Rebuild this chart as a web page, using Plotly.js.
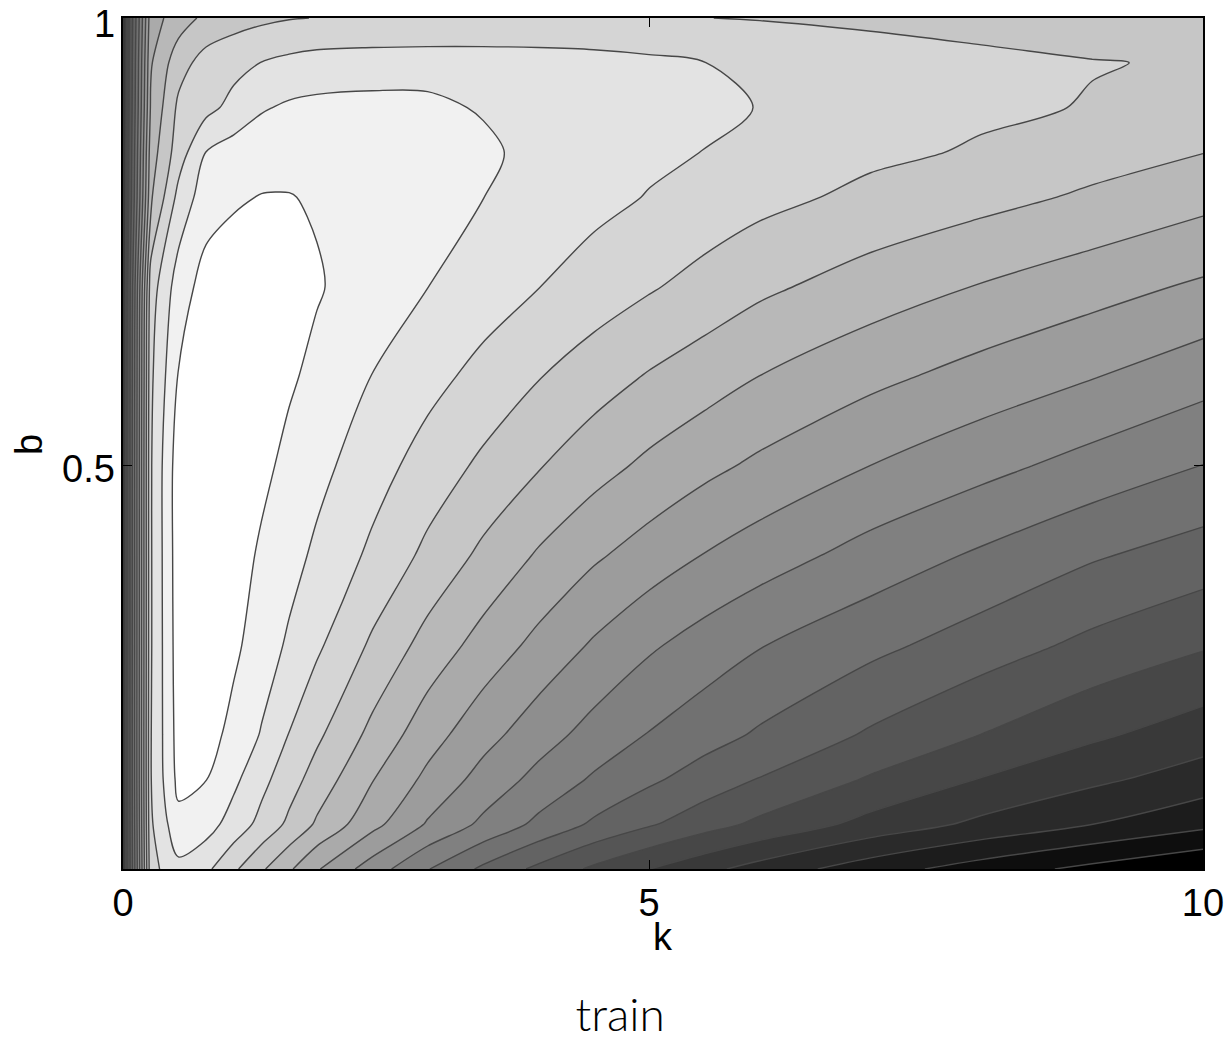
<!DOCTYPE html>
<html>
<head>
<meta charset="utf-8">
<script src="https://cdn.plot.ly/plotly-3.0.1.min.js"></script>
<style>
  html, body { margin: 0; padding: 0; background: #ffffff; }
  #chart { width: 1228px; height: 1040px; }
</style>
</head>
<body>
<div id="chart"></div>
<script>
// k values (grid columns) and b values (grid rows)
const kValues = [0.25, 0.5, 0.75, 1, 1.25, 1.5, 1.75, 2, 2.5, 3, 3.5, 4, 4.5, 5, 5.5, 6, 7, 8, 9, 10];
const bValues = [0.05, 0.1, 0.15, 0.2, 0.3, 0.4, 0.5, 0.6, 0.7, 0.8, 0.85, 0.9, 0.95, 1.0];

// contour level (darkness, 0 = white ... 19 = black), one row per b value
const row005 = [15, 3.35, 2.26, 2.78, 3.82, 4.85, 5.85, 6.9, 8.49, 9.95, 11.19, 12.23, 13.18, 13.99, 14.73, 15.4, 16.55, 17.47, 18.27, 19.0];
const row010 = [15, 3.15, 1.3, 1.58, 2.42, 3.3, 4.21, 5.14, 6.69, 8.1, 9.21, 10.23, 11.16, 11.89, 12.58, 13.22, 14.34, 15.23, 15.99, 16.73];
const row015 = [15, 3.05, 0.72, 0.98, 1.78, 2.71, 3.58, 4.42, 5.95, 7.24, 8.36, 9.3, 10.13, 10.82, 11.46, 12.05, 13.11, 14.05, 14.79, 15.48];
const row020 = [15, 3.05, 0.6, 0.6, 1.3, 2.07, 3.03, 3.81, 5.27, 6.58, 7.64, 8.56, 9.37, 10.05, 10.6, 11.13, 12.13, 13.01, 13.82, 14.52];
const row030 = [15, 3.1, 0.5, 0.3, 0.8, 1.49, 2.15, 2.83, 4.16, 5.37, 6.38, 7.28, 8.12, 8.85, 9.43, 9.95, 10.73, 11.49, 12.25, 12.89];
const row040 = [15, 3.1, 0.45, 0.25, 0.6, 1.13, 1.65, 2.19, 3.2, 4.24, 5.22, 6.11, 6.85, 7.46, 8.04, 8.52, 9.39, 10.15, 10.89, 11.46];
const row050 = [15, 3.1, 0.45, 0.2, 0.5, 0.79, 1.23, 1.7, 2.58, 3.42, 4.2, 4.93, 5.62, 6.22, 6.74, 7.2, 8.01, 8.69, 9.37, 10.02];
const row060 = [15, 3.2, 0.95, 0.5, 0.55, 0.7, 0.88, 1.22, 2.02, 2.67, 3.31, 3.95, 4.53, 5.08, 5.54, 6.01, 6.74, 7.37, 7.95, 8.61];
const row070 = [15, 3.5, 1.5, 0.6, 0.55, 0.55, 0.62, 0.92, 1.46, 1.99, 2.49, 2.98, 3.45, 3.9, 4.35, 4.8, 5.47, 6.06, 6.61, 7.16];
const row080 = [15, 5.2, 2.7, 1.45, 1.1, 0.97, 0.97, 1.08, 1.35, 1.65, 1.99, 2.35, 2.71, 3.05, 3.38, 3.71, 4.24, 4.68, 5.15, 5.69];
const row085 = [15, 5.5, 3.5, 1.98, 1.55, 1.35, 1.27, 1.25, 1.3, 1.45, 1.75, 2.4, 2.6, 2.8, 3.01, 3.25, 3.8, 4.1, 4.6, 4.98];
const row090 = [15, 5.9, 3.8, 3.3, 2.7, 2.1, 1.85, 1.75, 1.7, 1.75, 2.1, 2.4, 2.65, 2.83, 2.93, 3.01, 3.4, 3.85, 4.044, 4.45];
const row095 = [15, 6.1, 4.41, 3.59, 3.3, 2.98, 2.75, 2.6, 2.5, 2.45, 2.45, 2.5, 2.6, 2.78, 2.99, 3.2, 3.5, 3.78, 3.97, 4.06];
const row100 = [15, 6.45, 5.5, 4.75, 4.4, 4.2, 4.05, 3.98, 3.97, 3.97, 3.97, 3.97, 3.97, 3.98, 3.99, 4.05, 4.21, 4.33, 4.35, 4.45];

const xTickVals = [0.25, 5, 10];
const xTickText = ['0', '5', '10'];
const yTickVals = [0.5, 1];
const yTickText = ['0.5', '1'];

const zGrid = [row005, row010, row015, row020, row030, row040, row050, row060, row070, row080, row085, row090, row095, row100];

const trace = {
  type: 'contour',
  x: kValues,
  y: bValues,
  z: zGrid,
  autocontour: false,
  contours: { start: 1, end: 18, size: 1, coloring: 'fill', showlines: true },
  colorscale: [[0, '#ffffff'], [1, '#000000']],
  zauto: false, zmin: 0.5, zmax: 18.5,
  showscale: false,
  line: { color: '#474747', width: 1.4, smoothing: 0.9 },
  hoverinfo: 'skip'
};

const labelFont = { family: 'Liberation Sans, Arial, sans-serif', size: 38, color: '#000000' };

// y tick labels, axis titles placed as text next to the axes
const annotations = [
  { text: yTickText[1], xref: 'paper', yref: 'paper', x: -0.0056, y: 1.0200, xanchor: 'right', yanchor: 'top', showarrow: false, font: labelFont },
  { text: yTickText[0], xref: 'paper', yref: 'paper', x: -0.0056, y: 0.4700, xanchor: 'right', yanchor: 'middle', showarrow: false, font: labelFont },
  { text: 'k', xref: 'paper', yref: 'paper', x: 0.5, y: -0.0799, xanchor: 'center', yanchor: 'middle', showarrow: false, font: labelFont },
  { text: 'b', xref: 'paper', yref: 'paper', x: -0.0870, y: 0.4982, xanchor: 'center', yanchor: 'middle', textangle: -90, showarrow: false, font: labelFont }
];

const layout = {
  width: 1228, height: 1040,
  paper_bgcolor: '#ffffff', plot_bgcolor: '#ffffff',
  margin: { l: 123, r: 25, t: 18, b: 171, pad: 0 },
  showlegend: false,
  title: {
    text: 'train',
    font: { family: 'Lato, Open Sans, sans-serif', size: 46, weight: 300, color: '#000000' },
    x: 0.505, xanchor: 'center', xref: 'container',
    y: 0.024, yanchor: 'middle', yref: 'container'
  },
  annotations: annotations,
  xaxis: {
    range: [0.25, 10], tickvals: xTickVals, ticktext: xTickText,
    ticks: 'inside', ticklen: 9, tickwidth: 1.2, tickcolor: '#000000',
    showline: true, linecolor: '#000000', linewidth: 1.6, mirror: 'ticks',
    showgrid: false, zeroline: false, tickfont: labelFont,
    ticklabeloverflow: 'allow'
  },
  yaxis: {
    range: [0.05, 1], tickvals: yTickVals, showticklabels: false,
    ticks: 'inside', ticklen: 9, tickwidth: 1.2, tickcolor: '#000000',
    showline: true, linecolor: '#000000', linewidth: 1.6, mirror: 'ticks',
    showgrid: false, zeroline: false
  }
};

Plotly.newPlot('chart', [trace], layout, { displayModeBar: false, staticPlot: true });
</script>
</body>
</html>
